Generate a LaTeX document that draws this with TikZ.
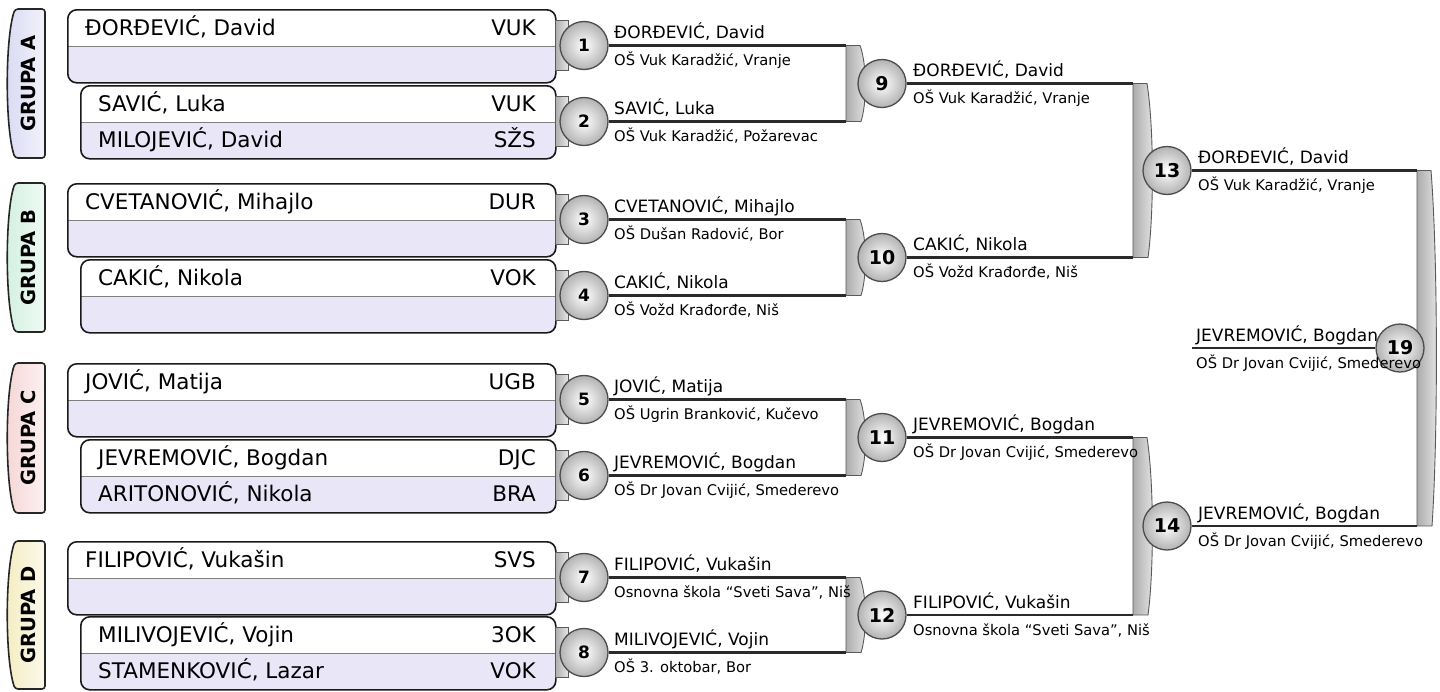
\documentclass[tikz,border=0pt]{standalone}
\usepackage{fontspec}
\setmainfont{DejaVu Sans}
\usetikzlibrary{positioning}

\definecolor{rowlav}{HTML}{E8E6F7}
\definecolor{tabA}{HTML}{DADAF4}
\definecolor{tabB}{HTML}{D3F0E0}
\definecolor{tabC}{HTML}{F6D6D6}
\definecolor{tabD}{HTML}{F4EDC2}
\definecolor{linedark}{HTML}{2A2A2A}

\tikzset{
  pbox/.style={draw=black!90, line width=1.6pt, rounded corners=9pt, fill=rowlav,
    anchor=north west, minimum height=73pt, inner sep=0pt,
    path picture={
      \fill[white, sharp corners] (path picture bounding box.north west) rectangle (path picture bounding box.east);
      \draw[black!50, line width=0.8pt, sharp corners] (path picture bounding box.west) -- (path picture bounding box.east);}},
  pname/.style={font=\fontsize{21.5}{24}\selectfont, anchor=base west, inner sep=0pt},
  pclub/.style={pname, anchor=base east},
  tabgrp/.style={draw=black!85, line width=1.6pt, rounded corners=3pt},
  grptxt/.style={font=\bfseries\fontsize{19.5}{22}\selectfont, rotate=90},
  match/.style={circle, draw=black!70, line width=1.3pt, inner color=white, outer color=gray!60,
    minimum size=48pt, inner sep=0pt, font=\bfseries\fontsize{17}{17}\selectfont},
  bigno/.style={font=\bfseries\fontsize{19}{19}\selectfont},
  brk/.style={left color=gray!65, right color=gray!20, draw=black!65, line width=0.9pt},
  conn/.style={draw=linedark, line width=2.4pt},
  wname/.style={font=\fontsize{17}{19}\selectfont, anchor=base west, inner sep=0pt},
  wschool/.style={font=\fontsize{14.7}{16}\selectfont, anchor=base west, inner sep=0pt}
}

% gray bracket joining two lines
\newcommand\brkshape[3]{\path[brk] (#1,#2) -- (#1+14,#2)
  .. controls (#1+21,{#2+(#3-#2)*0.25}) and (#1+21,{#3-(#3-#2)*0.25}) .. (#1+15,#3) -- (#1,#3) -- cycle;}

\begin{document}
\begin{tikzpicture}[x=1pt,y=-1pt]
\useasboundingbox (0,0) rectangle (1440,691);

% group tabs
\foreach \g/\t/\b in {A/9/158, B/183/332, C/363/513, D/541/689}{
  \path[tabgrp, left color=tab\g, right color=tab\g!35!white]
    (45,\t) -- (15,\t) .. controls (5,\t+30) and (5,\b-30) .. (15,\b) -- (45,\b) -- cycle;
  \node[grptxt] (g\g) at (28,{(\t+\b)/2}) {GRUPA \g};
}

% players
\foreach \n/\x/\y/\w/\na/\ca/\nb/\cb in {
  1/67/9/488/{ĐORĐEVIĆ, David}/VUK/{}/{},
  2/80/85/475/{SAVIĆ, Luka}/VUK/{MILOJEVIĆ, David}/SŽS,
  3/67/183/488/{CVETANOVIĆ, Mihajlo}/DUR/{}/{},
  4/80/259/475/{CAKIĆ, Nikola}/VOK/{}/{},
  5/67/363/488/{JOVIĆ, Matija}/UGB/{}/{},
  6/80/439/475/{JEVREMOVIĆ, Bogdan}/DJC/{ARITONOVIĆ, Nikola}/BRA,
  7/67/541/488/{FILIPOVIĆ, Vukašin}/SVS/{}/{},
  8/80/616/475/{MILIVOJEVIĆ, Vojin}/3OK/{STAMENKOVIĆ, Lazar}/VOK}{
  \node[pbox, minimum width=\w] (p\n) at (\x,\y) {};
  \node[pname] (p\n-a) at (\x+18,\y+26) {\na};
  \node[pclub] (p\n-c) at (536,\y+26) {\ca};
  \node[pname] (p\n-b) at (\x+18,\y+62.5) {\nb};
  \node[pclub] (p\n-d) at (536,\y+62.5) {\cb};
  \path[brk] (555,\y+11.5) rectangle (568,\y+61.5);
  \node[match] (m\n) at (584,\y+36.5) {\n};
}

% brackets
\brkshape{846}{45.5}{121.5}
\brkshape{846}{219.5}{295.5}
\brkshape{846}{399.5}{475.5}
\brkshape{846}{577.5}{652.5}
\brkshape{1133}{83.5}{257.5}
\brkshape{1133}{437.5}{615}
\brkshape{1417}{170.5}{526}

\foreach \n/\x/\y in {9/882/83.5, 10/882/257.5, 11/882/437.5, 12/882/615,
  13/1167/170.5, 14/1167/526, 19/1400/348}
  \node[match, bigno] (m\n) at (\x,\y) {\n};

% winners
\foreach \n/\x/\y/\kx/\wn/\ws in {
  1/614/45.5/846/{ĐORĐEVIĆ, David}/{OŠ Vuk Karadžić, Vranje},
  2/614/121.5/846/{SAVIĆ, Luka}/{OŠ Vuk Karadžić, Požarevac},
  3/614/219.5/846/{CVETANOVIĆ, Mihajlo}/{OŠ Dušan Radović, Bor},
  4/614/295.5/846/{CAKIĆ, Nikola}/{OŠ Vožd Krađorđe, Niš},
  5/614/399.5/846/{JOVIĆ, Matija}/{OŠ Ugrin Branković, Kučevo},
  6/614/475.5/846/{JEVREMOVIĆ, Bogdan}/{OŠ Dr Jovan Cvijić, Smederevo},
  7/614/577.5/846/{FILIPOVIĆ, Vukašin}/{Osnovna škola “Sveti Sava”, Niš},
  8/614/652.5/846/{MILIVOJEVIĆ, Vojin}/{OŠ 3. oktobar, Bor},
  9/913/83.5/1133/{ĐORĐEVIĆ, David}/{OŠ Vuk Karadžić, Vranje},
  10/913/257.5/1133/{CAKIĆ, Nikola}/{OŠ Vožd Krađorđe, Niš},
  11/913/437.5/1133/{JEVREMOVIĆ, Bogdan}/{OŠ Dr Jovan Cvijić, Smederevo},
  12/913/615/1133/{FILIPOVIĆ, Vukašin}/{Osnovna škola “Sveti Sava”, Niš},
  13/1198/170.5/1417/{ĐORĐEVIĆ, David}/{OŠ Vuk Karadžić, Vranje},
  14/1198/526/1417/{JEVREMOVIĆ, Bogdan}/{OŠ Dr Jovan Cvijić, Smederevo},
  19/1196/348/1192/{JEVREMOVIĆ, Bogdan}/{OŠ Dr Jovan Cvijić, Smederevo}}{
  \coordinate (k\n) at (\kx,\y);
  \draw[conn] (m\n) -- (k\n);
  \node[wname] (w\n) at (\x,\y-7) {\wn};
  \node[wschool] (s\n) at (\x,\y+20) {\ws};
}
\end{tikzpicture}
\end{document}
